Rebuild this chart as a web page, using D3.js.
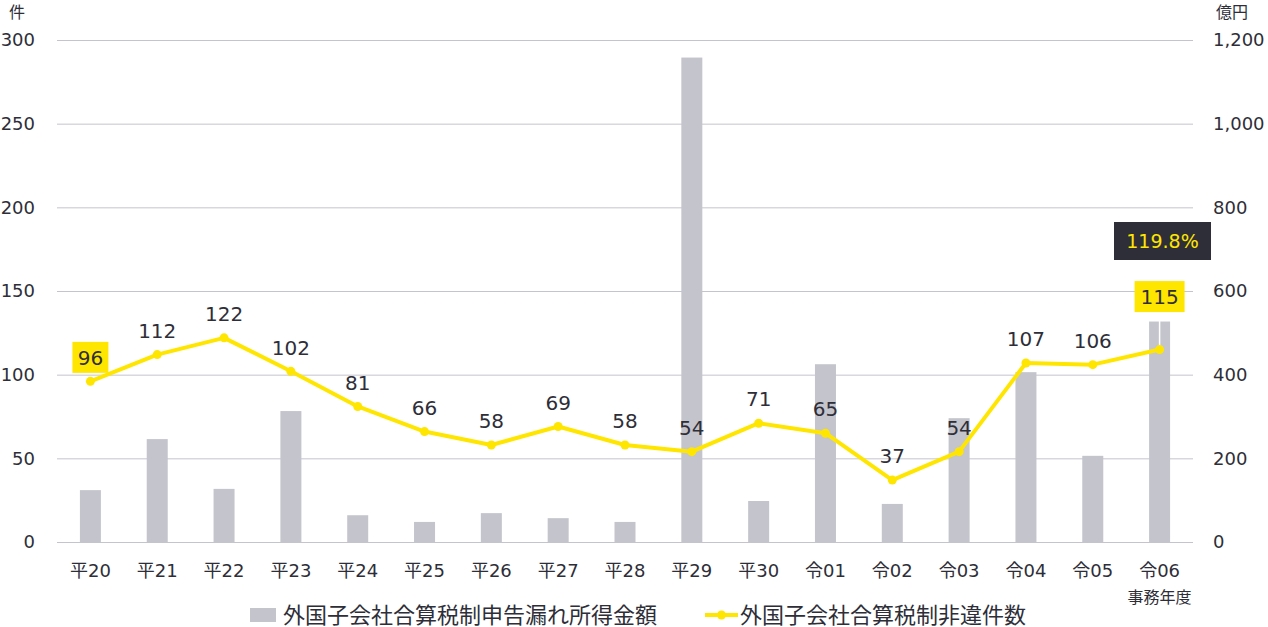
<!DOCTYPE html>
<html>
<head>
<meta charset="utf-8">
<script src="https://cdnjs.cloudflare.com/ajax/libs/d3/7.8.5/d3.min.js"></script>
<style>
  body { margin: 0; background: #fff; }
  .chart text { font-family: "DejaVu Sans", "Noto Sans CJK JP", sans-serif; fill: #2e2e38; }
  .grid line { stroke: #c4c4cd; stroke-width: 1px; }
  .grid .domain { display: none; }
</style>
</head>
<body>
<div class="chart"></div>
<script>
var categories = ["平20", "平21", "平22", "平23", "平24", "平25", "平26", "平27", "平28", "平29", "平30", "令01", "令02", "令03", "令04", "令05", "令06"],
    cases = [96, 112, 122, 102, 81, 66, 58, 69, 58, 54, 71, 65, 37, 54, 107, 106, 115],
    amounts = [124, 246, 127, 313, 64, 48, 69, 57, 48, 1158, 98, 425, 91, 296, 406, 206, 527],
    leftTicks = [0, 50, 100, 150, 200, 250, 300],
    rightTicks = [0, 200, 400, 600, 800, 1000, 1200],
    highlighted = ["平20", "令06"],
    growthLabel = "119.8%",
    seriesNames = ["外国子会社合算税制申告漏れ所得金額", "外国子会社合算税制非違件数"];

var outerWidth = 1268,
    outerHeight = 627,
    plotLeft = 57,
    plotRight = 1193,
    plotTop = 40,
    plotBottom = 542,
    yellow = "#ffe600",
    dark = "#2e2e38",
    barColor = "#c4c4cd";

var xScale = d3.scaleBand().domain(categories).range([plotLeft, plotRight]).padding(0),
    yLeft = d3.scaleLinear().domain([0, 300]).range([plotBottom, plotTop]),
    yRight = d3.scaleLinear().domain([0, 1200]).range([plotBottom, plotTop]),
    barWidth = 21,
    cx = function(d) { return xScale(d) + xScale.bandwidth() / 2; };

var last = categories.length - 1;
// the last label sits higher, with a leader line down to its point
var labelOffset = function(i) { return i === last ? 53 : 24; };

var svg = d3.select(".chart").append("svg")
    .attr("width", outerWidth)
    .attr("height", outerHeight);

// gridlines
svg.append("g")
    .attr("class", "grid")
    .attr("transform", "translate(" + plotLeft + ",0)")
    .call(d3.axisLeft(yLeft).tickValues(leftTicks).tickSize(-(plotRight - plotLeft)).tickFormat(""));

// left axis labels
var leftAxis = svg.append("g")
    .attr("transform", "translate(" + plotLeft + ",0)")
    .call(d3.axisLeft(yLeft).tickValues(leftTicks).tickSize(0).tickPadding(22));
leftAxis.select(".domain").remove();
leftAxis.selectAll("text").style("font-size", "18px").attr("fill", dark);

// right axis labels
var rightAxis = svg.append("g")
    .attr("transform", "translate(" + plotRight + ",0)")
    .call(d3.axisRight(yRight).tickValues(rightTicks).tickSize(0).tickPadding(20).tickFormat(d3.format(",")));
rightAxis.select(".domain").remove();
rightAxis.selectAll("text").style("font-size", "18px").attr("fill", dark);

svg.append("text").attr("x", 17).attr("y", 18).attr("text-anchor", "middle")
    .style("font-size", "16px").text("件");
svg.append("text").attr("x", 1232).attr("y", 18).attr("text-anchor", "middle")
    .style("font-size", "16px").text("億円");

// x axis
var xAxis = svg.append("g")
    .attr("transform", "translate(0," + plotBottom + ")")
    .call(d3.axisBottom(xScale).tickSize(0).tickPadding(22));
xAxis.select(".domain").remove();
xAxis.selectAll("text").style("font-size", "18px").attr("fill", dark);

svg.append("text")
    .attr("x", cx(categories[last]))
    .attr("y", 603)
    .attr("text-anchor", "middle")
    .style("font-size", "16px")
    .text("事務年度");

// bars
svg.selectAll(".bar")
    .data(amounts)
    .enter().append("rect")
    .attr("class", "bar")
    .attr("x", function(d, i) { return cx(categories[i]) - barWidth / 2; })
    .attr("y", function(d) { return yRight(d); })
    .attr("width", barWidth)
    .attr("height", function(d) { return plotBottom - yRight(d); })
    .attr("fill", barColor);

svg.append("line")
    .attr("x1", cx(categories[last])).attr("x2", cx(categories[last]))
    .attr("y1", yLeft(cases[last]) - labelOffset(last) + 15)
    .attr("y2", yLeft(cases[last]))
    .attr("stroke", "#fff")
    .attr("stroke-width", 1.5);

// line
var line = d3.line()
    .x(function(d, i) { return cx(categories[i]); })
    .y(function(d) { return yLeft(d); });

svg.append("path")
    .datum(cases)
    .attr("d", line)
    .attr("fill", "none")
    .attr("stroke", yellow)
    .attr("stroke-width", 4)
    .attr("stroke-linejoin", "round");

svg.selectAll(".dot")
    .data(cases)
    .enter().append("circle")
    .attr("class", "dot")
    .attr("cx", function(d, i) { return cx(categories[i]); })
    .attr("cy", function(d) { return yLeft(d); })
    .attr("r", 4.5)
    .attr("fill", yellow);

// label boxes for highlighted points
var boxed = categories.map(function(c, i) { return i; })
    .filter(function(i) { return highlighted.indexOf(categories[i]) > -1; });

svg.selectAll(".labelBox")
    .data(boxed)
    .enter().append("rect")
    .attr("class", "labelBox")
    .attr("x", function(i) { return cx(categories[i]) - (cases[i] >= 100 ? 25 : 18); })
    .attr("y", function(i) { return yLeft(cases[i]) - labelOffset(i) - 15.5; })
    .attr("width", function(i) { return cases[i] >= 100 ? 50 : 36; })
    .attr("height", 31)
    .attr("fill", yellow);

svg.selectAll(".label")
    .data(cases)
    .enter().append("text")
    .attr("class", "label")
    .attr("x", function(d, i) { return cx(categories[i]); })
    .attr("y", function(d, i) { return yLeft(d) - labelOffset(i); })
    .attr("dy", "0.36em")
    .attr("text-anchor", "middle")
    .style("font-size", "20px")
    .text(function(d) { return d; });

// growth rate badge
svg.append("rect")
    .attr("x", 1114).attr("y", 222)
    .attr("width", 97).attr("height", 38)
    .attr("fill", dark);
svg.append("text")
    .attr("x", 1162.5).attr("y", 241)
    .attr("dy", "0.36em")
    .attr("text-anchor", "middle")
    .style("font-size", "19px")
    .style("fill", yellow)
    .text(growthLabel);

// legend
var legend = svg.append("g").attr("transform", "translate(0,615)");
legend.append("rect")
    .attr("x", 250).attr("y", -7).attr("width", 26).attr("height", 14)
    .attr("fill", barColor);
legend.append("text")
    .attr("x", 283).attr("dy", "0.36em")
    .style("font-size", "22px")
    .text(seriesNames[0]);
legend.append("line")
    .attr("x1", 705).attr("x2", 738)
    .attr("stroke", yellow).attr("stroke-width", 4);
legend.append("circle")
    .attr("cx", 721.5).attr("r", 4.5).attr("fill", yellow);
legend.append("text")
    .attr("x", 740).attr("dy", "0.36em")
    .style("font-size", "22px")
    .text(seriesNames[1]);
</script>
</body>
</html>
